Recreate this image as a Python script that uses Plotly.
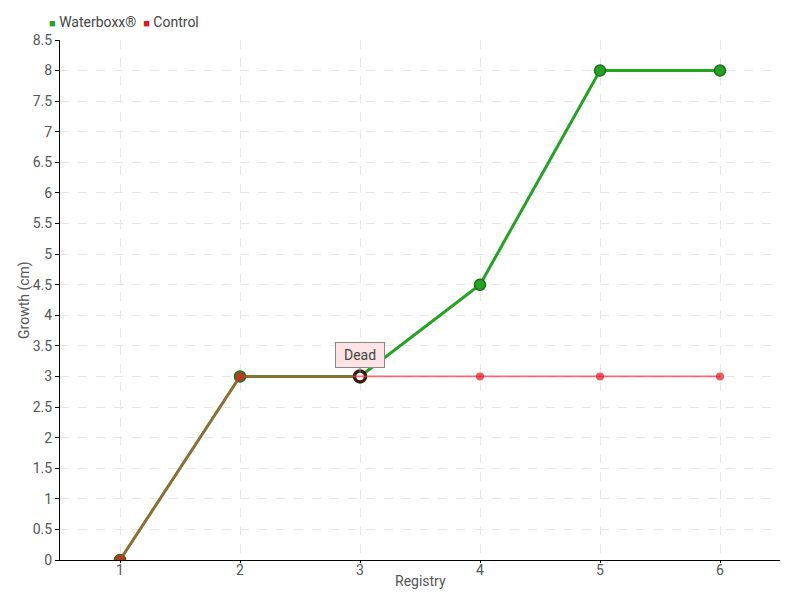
import plotly.graph_objects as go

registry = [1, 2, 3, 4, 5, 6]
waterboxx = [0, 3, 3, 4.5, 8, 8]
control = [0, 3, 3, 3, 3, 3]
y_ticks = [0, 0.5, 1, 1.5, 2, 2.5, 3, 3.5, 4, 4.5, 5, 5.5, 6, 6.5, 7, 7.5, 8, 8.5]
series_names = ["Waterboxx®", "Control"]
x_title = "Registry"
y_title = "Growth (cm)"
GREEN = "#22a322"
RED = "#e8141c"

FONT = "Roboto, Lato, sans-serif"

fig = go.Figure()
fig.add_trace(go.Scatter(
    x=registry, y=waterboxx, name=series_names[0], mode="lines+markers", showlegend=False,
    line=dict(color=GREEN, width=3),
    marker=dict(size=11, color=[GREEN, GREEN, "#ffffff", GREEN, GREEN, GREEN],
                line=dict(color=["#1c6e1c", "#1c6e1c", "#3a1a10", "#1c6e1c", "#1c6e1c", "#1c6e1c"],
                          width=[1.5, 1.5, 3.5, 1.5, 1.5, 1.5])),
))
fig.add_trace(go.Scatter(
    x=registry, y=control, name=series_names[1], mode="lines+markers", showlegend=False,
    line=dict(color="rgba(240,60,70,0.75)", width=1.8),
    marker=dict(size=[10, 9, 0, 8, 8, 8], color=RED, line=dict(width=0)),
))
fig.add_annotation(
    x=3, y=3, text="Dead", showarrow=True, arrowhead=0, arrowwidth=1, arrowcolor="#888",
    ax=0, ay=-21, bgcolor="#fde3e3", bordercolor="#888", borderwidth=1, borderpad=4,
    width=40, font=dict(family=FONT, size=14, color="#444"), standoff=4,
)
legend_text = (f'<span style="color:{GREEN};font-size:11px">■</span> {series_names[0]}  '
               f'<span style="color:{RED};font-size:11px">■</span> {series_names[1]}')
fig.add_annotation(
    xref="paper", yref="paper", x=0, y=1, xanchor="left", yanchor="bottom",
    xshift=-13, yshift=8, showarrow=False, text=legend_text,
    font=dict(family=FONT, size=14, color="#444"),
)
fig.add_annotation(
    xref="paper", yref="paper", x=0.5, y=0, xanchor="center", yanchor="middle",
    yshift=-21, showarrow=False, text=x_title, font=dict(family=FONT, size=14, color="#555"),
)
fig.add_annotation(
    xref="paper", yref="paper", x=0, y=0.5, xanchor="center", yanchor="middle",
    xshift=-36, showarrow=False, text=y_title, textangle=-90,
    font=dict(family=FONT, size=14, color="#555"),
)
fig.update_layout(
    width=800, height=600, paper_bgcolor="white", plot_bgcolor="white",
    margin=dict(l=60, r=20, t=40, b=40, autoexpand=False),
    font=dict(family=FONT, size=14, color="#555"),
    showlegend=False,
    xaxis=dict(range=[0.5, 6.5], tickvals=registry, showgrid=True, gridcolor="#e6e6e6", griddash="dash",
               showline=True, linecolor="#000", linewidth=1, ticks="outside", ticklen=2, tickcolor="#000",
               ticklabelstandoff=-5, zeroline=False, automargin=False),
    yaxis=dict(range=[0, 8.5], tickvals=y_ticks, ticktext=[("%g" % v) for v in y_ticks],
               showgrid=True, gridcolor="#e6e6e6", griddash="dash",
               showline=True, linecolor="#000", linewidth=1, ticks="outside", ticklen=4, tickcolor="#000",
               zeroline=False, automargin=False),
)
fig.write_html("out.html", config={"displayModeBar": False},
               post_script="document.body.style.margin='0';")
